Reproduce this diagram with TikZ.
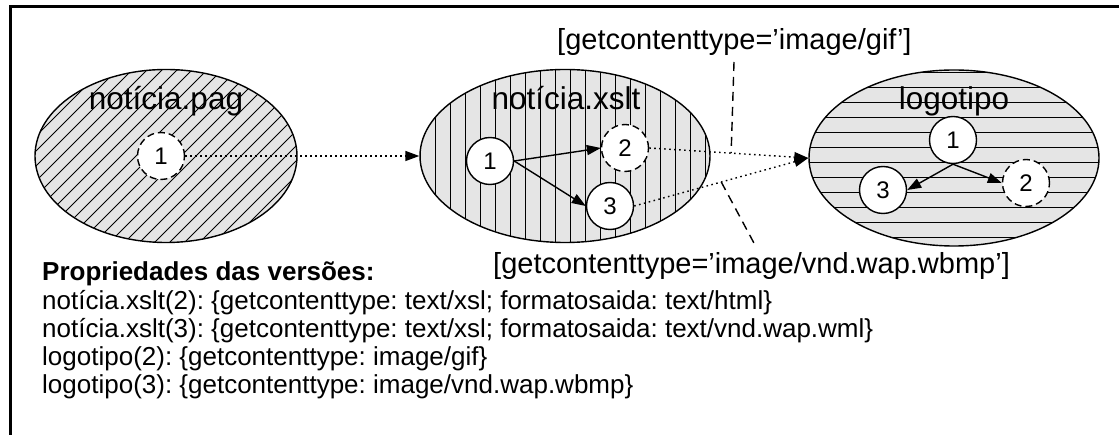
\documentclass[tikz,border=0pt]{standalone}
\usepackage{fontspec}
\setmainfont{Liberation Sans}
\usetikzlibrary{arrows.meta,shapes.geometric}
\begin{document}
\frenchspacing
\begin{tikzpicture}[x=1pt,y=-1pt,
  doc/.style={ellipse,draw,line width=1.4pt,inner sep=0pt,
    minimum width=262pt,minimum height=173pt},
  docfill/.style={fill=gray!20},
  hatch/.style={line width=0.8pt},
  state/.style={circle,draw,fill=white,line width=1.4pt,minimum size=47pt,
    inner sep=0pt,font=\fontsize{24}{28}\selectfont},
  ghost/.style={state,dash pattern=on 7pt off 4pt},
  docname/.style={font=\fontsize{31.5}{38}\selectfont,inner sep=0pt,anchor=base},
  cond/.style={font=\fontsize{29}{34}\selectfont,inner sep=0pt,anchor=base west},
  prop/.style={font=\fontsize{26}{30}\selectfont,inner sep=0pt,anchor=base west},
  flow/.style={line width=1.4pt,-{Triangle[length=14pt,width=10pt]}},
  transfer/.style={flow,dash pattern=on 1.6pt off 3.4pt},
  guide/.style={line width=1.4pt,dash pattern=on 9pt off 6pt}
]
\useasboundingbox (0,0) rectangle (1119,435);

% frame
\draw[line width=3pt] (1130,6.5) -- (10.5,6.5) -- (10.5,445);

% hatched document bodies
\fill[docfill] (166,156) ellipse [x radius=131, y radius=86.5];
\begin{scope}
  \clip (166,156) ellipse [x radius=131, y radius=86.5];
  \foreach \k in {-25,...,25}
    \draw[hatch] ({166+15*\k-110},266) -- ({166+15*\k+110},46);
\end{scope}
\fill[docfill] (565,156) ellipse [x radius=145, y radius=86.5];
\begin{scope}
  \clip (565,156) ellipse [x radius=145, y radius=86.5];
  \foreach \k in {0,...,20}
    \draw[hatch] ({420+15*\k},50) -- ({420+15*\k},260);
\end{scope}
\fill[docfill] (954,158) ellipse [x radius=145, y radius=88];
\begin{scope}
  \clip (954,158) ellipse [x radius=145, y radius=88];
  \foreach \k in {0,...,12}
    \draw[hatch] (800,{72+15*\k}) -- (1110,{72+15*\k});
\end{scope}

% document outlines
\node[doc] (pag) at (166,156) {};
\node[doc,minimum width=290pt] (xslt) at (565,156) {};
\node[doc,minimum width=290pt,minimum height=176pt] (logo) at (954,158) {};

\node[docname] (pagname) at (166,110) {notícia.pag};
\node[docname] (xsltname) at (566,110) {notícia.xslt};
\node[docname] (logoname) at (954,110) {logotipo};

% versions
\node[ghost] (p1) at (161,156) {1};
\node[state] (x1) at (490,161) {1};
\node[ghost] (x2) at (625,148) {2};
\node[state] (x3) at (610,206) {3};
\node[state] (l1) at (953,140) {1};
\node[state] (l3) at (883,190) {3};
\node[ghost] (l2) at (1026,183) {2};

% derivations inside documents
\draw[flow] (x1.east) -- (x2.west);
\draw[flow] (x1.east) -- (x3.west);
\draw[flow] (l1.south) -- (l3.east);
\draw[flow] (l1.south) -- (l2.west);

% references between documents
\draw[transfer] (p1.east) -- (xslt.west);
\draw[transfer] (x2.east) -- (logo.west) coordinate[pos=0.515] (gifsel);
\draw[transfer] (x3.east) -- (logo.west) coordinate[pos=0.5] (wbmpsel);

% selection conditions
\node[cond] (gifcond) at (557,50) {[getcontenttype='image/gif']};
\node[cond] (wbmpcond) at (493,274) {[getcontenttype='image/vnd.wap.wbmp']};
\coordinate (gifcondfoot) at (734,62);
\coordinate (wbmpcondhead) at (755,245);
\draw[guide] (gifcondfoot) -- (gifsel);
\draw[guide] (wbmpsel) -- (wbmpcondhead);

% version properties
\node[prop,font=\fontsize{26}{30}\selectfont\bfseries] (prop0) at (42,281) {Propriedades das versões:};
\node[prop] (prop1) at (42,309.2) {notícia.xslt(2): \{getcontenttype: text/xsl; formatosaida: text/html\}};
\node[prop] (prop2) at (42,337.4) {notícia.xslt(3): \{getcontenttype: text/xsl; formatosaida: text/vnd.wap.wml\}};
\node[prop] (prop3) at (42,365.6) {logotipo(2): \{getcontenttype: image/gif\}};
\node[prop] (prop4) at (42,393.8) {logotipo(3): \{getcontenttype: image/vnd.wap.wbmp\}};
\end{tikzpicture}
\end{document}
